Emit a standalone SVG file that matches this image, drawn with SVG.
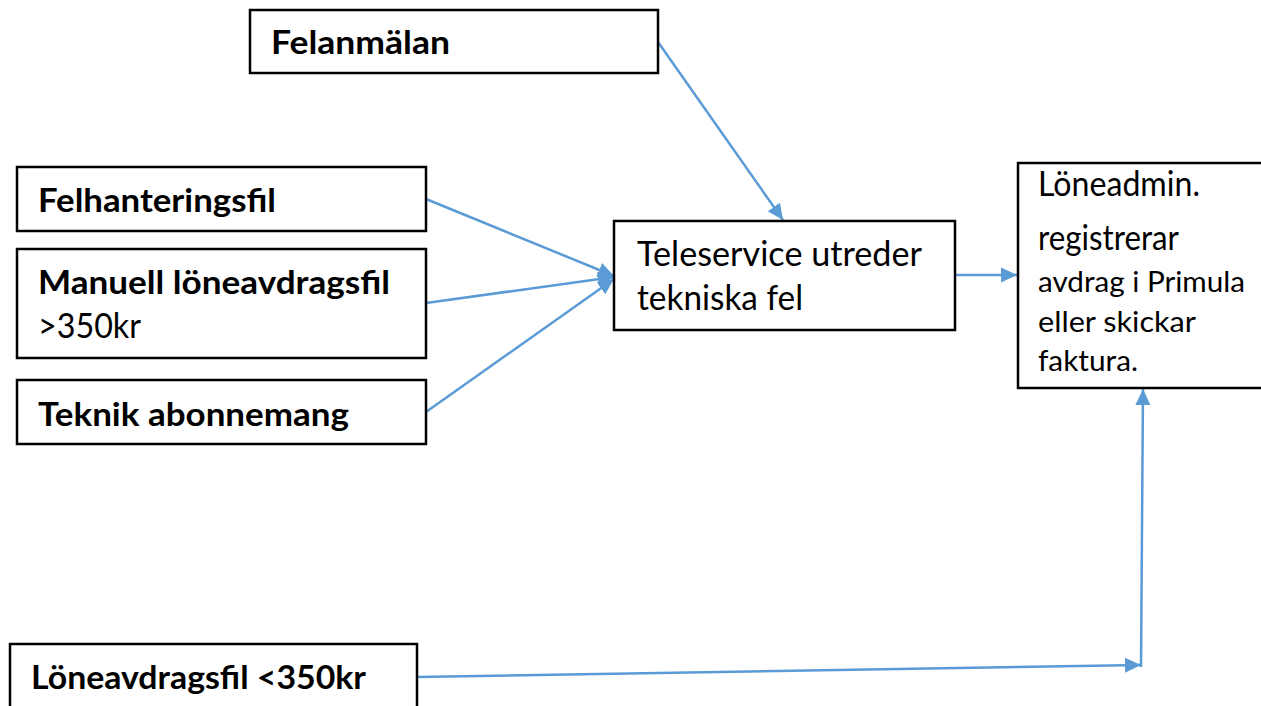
<svg xmlns="http://www.w3.org/2000/svg" width="1261" height="706" viewBox="0 0 1261 706">
  <defs>
    <marker id="arrow" markerUnits="userSpaceOnUse" markerWidth="17" markerHeight="16" refX="16" refY="8" orient="auto">
      <path d="M0,0.5 L16,8 L0,15.5 z" fill="#5B9BD5"/>
    </marker>
    <style>
      .box { fill: #ffffff; stroke: #000000; stroke-width: 2.5; }
      .b { font-family: Lato, "Open Sans", "Liberation Sans", sans-serif; font-weight: bold; font-size: 33px; fill: #000000; }
      .r { font-family: Lato, "Open Sans", "Liberation Sans", sans-serif; font-weight: normal; font-size: 34px; fill: #000000; }
      .s { font-family: Lato, "Open Sans", "Liberation Sans", sans-serif; font-weight: normal; font-size: 29px; fill: #000000; }
      .conn { fill: none; stroke: #5B9BD5; stroke-width: 2.5; marker-end: url(#arrow); }
    </style>
  </defs>
  <rect x="0" y="0" width="1261" height="706" fill="#ffffff"/>

  <g id="connectors">
    <line class="conn" x1="658" y1="42" x2="783" y2="220"/>
    <line class="conn" x1="426" y1="199" x2="614" y2="276"/>
    <line class="conn" x1="426" y1="303" x2="614" y2="277"/>
    <line class="conn" x1="426" y1="412" x2="614" y2="279"/>
    <line class="conn" x1="955" y1="275" x2="1017" y2="275"/>
    <line class="conn" x1="417" y1="677" x2="1141" y2="665"/>
    <line class="conn" x1="1141" y1="667" x2="1143" y2="389"/>
  </g>

  <g id="felanmalan">
    <rect class="box" x="250" y="10" width="408" height="63"/>
    <text class="b" x="271" y="54" textLength="179" lengthAdjust="spacingAndGlyphs">Felanmälan</text>
  </g>

  <g id="felhanteringsfil">
    <rect class="box" x="17" y="167" width="409" height="64"/>
    <text class="b" x="38" y="212" textLength="238" lengthAdjust="spacingAndGlyphs">Felhanteringsfil</text>
  </g>

  <g id="manuell">
    <rect class="box" x="17" y="249" width="409" height="109"/>
    <text class="b" x="38" y="294" textLength="352" lengthAdjust="spacingAndGlyphs">Manuell löneavdragsfil</text>
    <text class="r" x="38" y="338" textLength="103" lengthAdjust="spacingAndGlyphs">&gt;350kr</text>
  </g>

  <g id="teknik">
    <rect class="box" x="17" y="380" width="409" height="64"/>
    <text class="b" x="38" y="426" textLength="311" lengthAdjust="spacingAndGlyphs">Teknik abonnemang</text>
  </g>

  <g id="teleservice">
    <rect class="box" x="614" y="221" width="341" height="109"/>
    <text class="r" x="637" y="266" textLength="285" lengthAdjust="spacingAndGlyphs">Teleservice utreder</text>
    <text class="r" x="637" y="310" textLength="166" lengthAdjust="spacingAndGlyphs">tekniska fel</text>
  </g>

  <g id="loneadmin">
    <rect class="box" x="1018" y="163" width="260" height="225"/>
    <text class="r" x="1038" y="196" textLength="162" lengthAdjust="spacingAndGlyphs">Löneadmin.</text>
    <text class="r" x="1038" y="250" textLength="141" lengthAdjust="spacingAndGlyphs">registrerar</text>
    <text class="s" x="1038" y="292" textLength="207" lengthAdjust="spacingAndGlyphs">avdrag i Primula</text>
    <text class="s" x="1038" y="332" textLength="158" lengthAdjust="spacingAndGlyphs">eller skickar</text>
    <text class="s" x="1038" y="371" textLength="100" lengthAdjust="spacingAndGlyphs">faktura.</text>
  </g>

  <g id="loneavdragsfil">
    <rect class="box" x="10" y="644" width="407" height="72"/>
    <text class="b" x="31" y="689" textLength="335" lengthAdjust="spacingAndGlyphs">Löneavdragsfil &lt;350kr</text>
  </g>
</svg>
